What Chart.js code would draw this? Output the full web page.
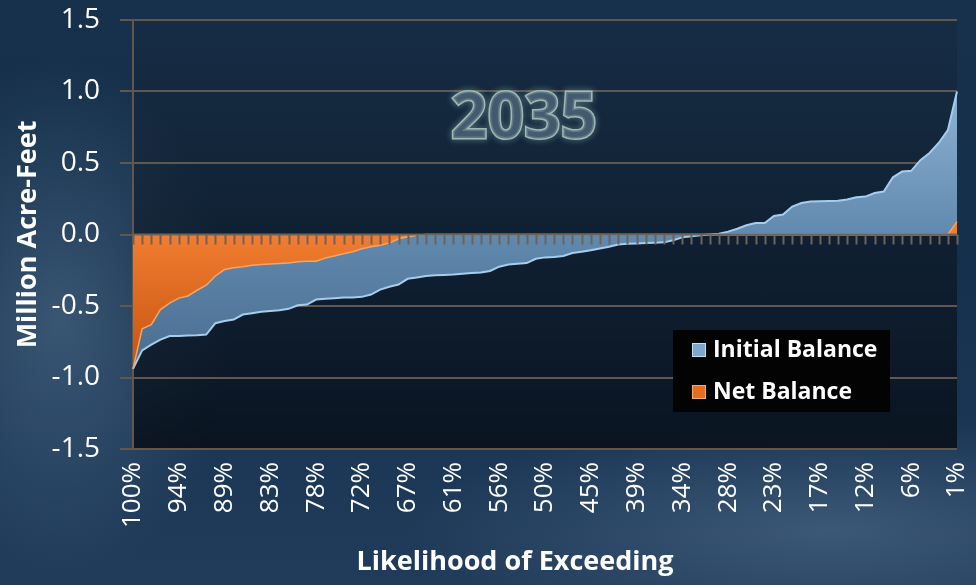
<!DOCTYPE html>
<html>
<head>
<meta charset="utf-8">
<script src="https://cdn.jsdelivr.net/npm/chart.js@4/dist/chart.umd.min.js"></script>
<style>
  html, body { margin: 0; padding: 0; }
  body {
    width: 976px; height: 585px; overflow: hidden;
    background:
      radial-gradient(ellipse 170px 260px at 60px 320px, rgba(85,115,145,0.55), rgba(85,115,145,0) 100%),
      radial-gradient(ellipse 420px 110px at 830px 530px, rgba(95,125,155,0.45), rgba(95,125,155,0) 100%),
      linear-gradient(180deg, #17304b 0%, #15304c 45%, #1d3857 80%, #213c5a 100%);
  }
  #wrap { position: relative; width: 976px; height: 585px; }
</style>
</head>
<body>
<div id="wrap"><canvas id="myChart" width="976" height="585"></canvas></div>
<script>
// x categories (likelihood of exceeding)
var likelihood = ['100%','98%','97%','96%','95%','94%','93%','92%','91%','90%',
  '89%','87%','86%','85%','84%','83%','82%','81%','80%','79%',
  '78%','76%','75%','74%','73%','72%','71%','70%','69%','68%',
  '67%','65%','64%','63%','62%','61%','60%','59%','58%','57%',
  '56%','54%','53%','52%','51%','50%','49%','48%','47%','46%',
  '45%','43%','42%','41%','40%','39%','38%','37%','36%','35%',
  '34%','32%','31%','30%','29%','28%','27%','26%','25%','24%',
  '23%','21%','20%','19%','18%','17%','16%','15%','14%','13%',
  '12%','10%','9%','8%','7%','6%','5%','4%','3%','2%','1%'];

// million acre-feet
var initialBalance = [-0.94,-0.81,-0.77,-0.735,-0.71,-0.71,-0.707,-0.705,-0.70,-0.62,
  -0.605,-0.595,-0.56,-0.55,-0.54,-0.535,-0.53,-0.52,-0.495,-0.49,
  -0.455,-0.45,-0.445,-0.44,-0.44,-0.436,-0.42,-0.385,-0.365,-0.35,
  -0.31,-0.30,-0.29,-0.285,-0.283,-0.28,-0.275,-0.27,-0.265,-0.255,
  -0.225,-0.21,-0.205,-0.20,-0.17,-0.16,-0.158,-0.15,-0.13,-0.12,
  -0.11,-0.098,-0.085,-0.07,-0.065,-0.063,-0.06,-0.058,-0.055,-0.04,
  -0.02,-0.012,-0.005,0.0,0.005,0.02,0.04,0.065,0.08,0.08,
  0.13,0.14,0.195,0.22,0.23,0.233,0.235,0.236,0.245,0.26,
  0.265,0.29,0.30,0.40,0.44,0.445,0.52,0.57,0.64,0.73,1.0];

var netBalance = [-0.94,-0.66,-0.63,-0.525,-0.48,-0.445,-0.43,-0.39,-0.355,-0.29,
  -0.245,-0.232,-0.225,-0.215,-0.21,-0.207,-0.203,-0.20,-0.19,-0.187,
  -0.187,-0.165,-0.15,-0.135,-0.12,-0.10,-0.085,-0.075,-0.06,-0.03,
  -0.015,-0.005,0,0,0,0,0,0,0,0,
  0,0,0,0,0,0,0,0,0,0,
  0,0,0,0,0,0,0,0,0,0,
  0,0,0,0,0,0,0,0,0,0,
  0,0,0,0,0,0,0,0,0,0,
  0,0,0,0,0,0,0,0,0,0,0.09];

var yTicks = [-1.5, -1.0, -0.5, 0, 0.5, 1.0, 1.5];

var gridCol = '#61574f';

function blueFill(c) {
  var a = c.chart.chartArea;
  if (!a) return '#5d87ad';
  var g = c.chart.ctx.createLinearGradient(0, a.top, 0, a.bottom);
  g.addColorStop(0, '#a3c8e6');
  g.addColorStop(0.5, '#6189ae');
  g.addColorStop(1, '#3c5c7b');
  return g;
}
function orangeFill(c) {
  var a = c.chart.chartArea;
  if (!a) return '#e8732a';
  var g = c.chart.ctx.createLinearGradient(0, a.top, 0, a.bottom);
  g.addColorStop(0.5, '#f07d31');
  g.addColorStop(0.85, '#c24e0b');
  g.addColorStop(1, '#a94005');
  return g;
}

var decor = {
  id: 'decor',
  beforeDraw: function(chart) {
    var ctx = chart.ctx, a = chart.chartArea;
    var g = ctx.createLinearGradient(0, a.top, 0, a.bottom);
    g.addColorStop(0, 'rgba(22,38,58,0.35)');
    g.addColorStop(0.5, 'rgba(12,22,34,0.6)');
    g.addColorStop(1, 'rgba(6,12,20,0.82)');
    ctx.save();
    ctx.fillStyle = g;
    ctx.fillRect(a.left, a.top, a.right - a.left, a.bottom - a.top);
    ctx.restore();
  },
  beforeDatasetsDraw: function(chart) {
    var ctx = chart.ctx;
    ctx.save();
    ctx.font = 'bold 64px "Open Sans"';
    ctx.textAlign = 'center';
    ctx.textBaseline = 'middle';
    ctx.shadowColor = 'rgba(170,210,200,0.6)';
    ctx.shadowBlur = 6;
    ctx.lineWidth = 3;
    ctx.strokeStyle = '#9fbab4';
    ctx.strokeText('2035', 524, 120);
    ctx.shadowBlur = 0;
    ctx.fillStyle = 'rgba(75,98,120,0.75)';
    ctx.fillText('2035', 524, 120);
    ctx.restore();
  },
  afterDatasetsDraw: function(chart) {
    var ctx = chart.ctx, x = chart.scales.x, y = chart.scales.y;
    var y0 = y.getPixelForValue(0);
    ctx.save();
    ctx.strokeStyle = '#6e6259';
    ctx.lineWidth = 2;
    ctx.beginPath();
    ctx.moveTo(x.left, y0);
    ctx.lineTo(x.right, y0);
    for (var i = 0; i < likelihood.length; i++) {
      var px = Math.round(x.getPixelForValue(i)) + 0.5;
      ctx.moveTo(px, y0);
      ctx.lineTo(px, y0 + 10);
    }
    ctx.stroke();
    ctx.restore();
  },
  afterDraw: function(chart) {
    var ctx = chart.ctx;
    ctx.save();
    // legend
    ctx.fillStyle = '#030303';
    ctx.fillRect(673, 330, 217, 82);
    ctx.fillStyle = '#7ea7cc';
    ctx.fillRect(692, 343, 14, 14);
    ctx.strokeStyle = '#c4e0f5';
    ctx.lineWidth = 1;
    ctx.strokeRect(692.5, 343.5, 13, 13);
    ctx.fillStyle = '#e4701f';
    ctx.fillRect(692, 385, 14, 14);
    ctx.strokeStyle = '#f7ad70';
    ctx.strokeRect(692.5, 385.5, 13, 13);
    ctx.fillStyle = '#ffffff';
    ctx.font = 'bold 23px "Open Sans"';
    ctx.textBaseline = 'middle';
    ctx.fillText('Initial Balance', 713, 350);
    ctx.fillText('Net Balance', 713, 392);
    // x axis title
    ctx.font = 'bold 27px "Open Sans"';
    ctx.textAlign = 'center';
    ctx.fillText('Likelihood of Exceeding', 515, 562);
    ctx.restore();
  }
};

var ctx = document.getElementById('myChart').getContext('2d');
var myChart = new Chart(ctx, {
  type: 'line',
  data: {
    labels: likelihood,
    datasets: [
      {
        label: 'Net Balance',
        data: netBalance,
        order: 0,
        fill: 'origin',
        backgroundColor: orangeFill,
        borderColor: '#f8a460',
        borderWidth: 1.5,
        segment: {
          borderColor: function(s) {
            return (s.p0.parsed.y === 0 && s.p1.parsed.y === 0) ? '#b4daf4' : '#f8a460';
          }
        },
        pointRadius: 0,
        tension: 0
      },
      {
        label: 'Initial Balance',
        data: initialBalance,
        order: 1,
        fill: 'origin',
        backgroundColor: blueFill,
        borderColor: '#a6cdec',
        borderWidth: 2,
        pointRadius: 0,
        tension: 0
      }
    ]
  },
  options: {
    responsive: false,
    animation: false,
    devicePixelRatio: 1,
    layout: { padding: { top: 20, right: 19, left: 0, bottom: 0 } },
    plugins: {
      legend: { display: false },
      tooltip: { enabled: false }
    },
    scales: {
      x: {
        offset: false,
        grid: { display: false, drawTicks: false },
        border: { display: false },
        ticks: {
          autoSkip: false,
          maxRotation: 90,
          minRotation: 90,
          padding: 13,
          color: '#ffffff',
          font: { family: '"Open Sans"', size: 26 },
          callback: function(v, i) { return i % 5 === 0 ? this.getLabelForValue(v) : ''; }
        },
        afterFit: function(s) { s.height = 136; s.paddingLeft = 0; s.paddingRight = 0; }
      },
      y: {
        min: -1.5,
        max: 1.5,
        afterBuildTicks: function(s) { s.ticks = yTicks.map(function(v) { return { value: v }; }); },
        grid: { color: gridCol, lineWidth: 2, tickLength: 13 },
        border: { display: true, color: gridCol, width: 2 },
        ticks: {
          padding: 20,
          color: '#ffffff',
          font: { family: '"Open Sans"', size: 28 },
          callback: function(v) { return v.toFixed(1); }
        },
        title: {
          display: true,
          text: 'Million Acre-Feet',
          color: '#ffffff',
          font: { family: '"Open Sans"', size: 27, weight: 'bold' },
          padding: { top: 12, bottom: 0 }
        },
        afterFit: function(s) { s.width = 133; s.paddingTop = 0; s.paddingBottom = 0; }
      }
    }
  },
  plugins: [decor]
});
</script>
</body>
</html>
